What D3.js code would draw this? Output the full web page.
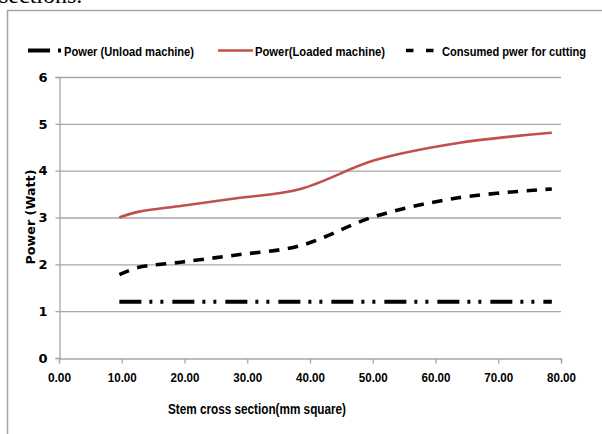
<!DOCTYPE html>
<html>
<head>
<meta charset="utf-8">
<script src="https://cdn.jsdelivr.net/npm/d3@7"></script>
<style>
  body { margin: 0; background: #fff; }
  svg { display: block; }
  .narrow { font-family: 'Liberation Sans Narrow', 'Arial Narrow', 'Liberation Sans', sans-serif; font-weight: bold; }
  .wide { font-family: 'DejaVu Sans', Verdana, sans-serif; font-weight: bold; }
</style>
</head>
<body>
<div id="chart"></div>
<script>
// stem cross sections (mm^2) for the measured stems
var crossSections = [9.62, 12.57, 19.63, 28.27, 38.48, 50.27, 63.62, 78.54];
var powerUnloaded = [1.2, 1.2, 1.2, 1.2, 1.2, 1.2, 1.2, 1.2];
var powerLoaded = [3.0, 3.12, 3.25, 3.41, 3.61, 4.22, 4.59, 4.81];
var powerCutting = [1.78, 1.93, 2.05, 2.2, 2.4, 3.02, 3.42, 3.61];

var xTicks = [0, 10, 20, 30, 40, 50, 60, 70, 80];
var yTicks = [0, 1, 2, 3, 4, 5, 6];

var legendNames = ['Power (Unload machine)', 'Power(Loaded machine)', 'Consumed pwer for cutting'];

var W = 602, H = 434;
var plot = { left: 59, right: 561, top: 77, bottom: 358 };

var svg = d3.select('#chart').append('svg')
  .attr('width', W)
  .attr('height', H);

// bit of the page text above the figure, cut off
svg.append('text')
  .attr('x', -1).attr('y', 2.5)
  .attr('font-family', "'Liberation Serif', 'Times New Roman', serif")
  .attr('font-size', 24)
  .text('sections.');

// chart frame
svg.append('rect')
  .attr('x', 7.5).attr('y', 10.5)
  .attr('width', 640).attr('height', 460)
  .attr('fill', 'none')
  .attr('stroke', '#a6a6a6')
  .attr('stroke-width', 1.5);

var x = d3.scaleLinear().domain([0, 80]).range([plot.left, plot.right]);
var y = d3.scaleLinear().domain([0, 6]).range([plot.bottom, plot.top]);

// horizontal gridlines
svg.append('g').selectAll('line')
  .data(yTicks.filter(function(d) { return d > 0; }))
  .enter().append('line')
  .attr('x1', plot.left).attr('x2', plot.right)
  .attr('y1', function(d) { return y(d) + 0.5; })
  .attr('y2', function(d) { return y(d) + 0.5; })
  .attr('stroke', '#a6a6a6')
  .attr('stroke-width', 1.3);

// x axis
var xAxis = svg.append('g')
  .attr('transform', 'translate(0,' + (plot.bottom + 0.5) + ')')
  .call(d3.axisBottom(x).tickValues(xTicks).tickSize(5).tickPadding(9).tickFormat(d3.format('.2f')));
xAxis.select('.domain').attr('stroke', '#a6a6a6').attr('stroke-width', 1.3);
xAxis.selectAll('.tick line').attr('stroke', '#a6a6a6').attr('stroke-width', 1.3);
xAxis.selectAll('.tick text')
  .attr('class', 'narrow')
  .attr('font-size', 13.5)
  .attr('fill', '#000')
  .attr('textLength', function(d) { return d3.format('.2f')(d).length * 5.8; })
  .attr('lengthAdjust', 'spacingAndGlyphs');

// y axis
var yAxis = svg.append('g')
  .attr('transform', 'translate(' + (plot.left + 0.5) + ',0)')
  .call(d3.axisLeft(y).tickValues(yTicks).tickSize(4).tickPadding(8).tickFormat(d3.format('d')));
yAxis.select('.domain').attr('stroke', '#a6a6a6').attr('stroke-width', 1.3);
yAxis.selectAll('.tick line').attr('stroke', '#a6a6a6').attr('stroke-width', 1.3);
yAxis.selectAll('.tick text')
  .attr('class', 'wide')
  .attr('font-size', 13)
  .attr('fill', '#000');

// axis titles
svg.append('text')
  .attr('class', 'narrow')
  .attr('x', 168).attr('y', 414)
  .attr('font-size', 14.5)
  .attr('textLength', 178)
  .attr('lengthAdjust', 'spacingAndGlyphs')
  .text('Stem cross section(mm square)');

svg.append('text')
  .attr('class', 'wide')
  .attr('transform', 'translate(35,217) rotate(-90)')
  .attr('text-anchor', 'middle')
  .attr('font-size', 12)
  .attr('textLength', 95)
  .attr('lengthAdjust', 'spacingAndGlyphs')
  .text('Power (Watt)');

// series
var series = [
  { name: legendNames[0], values: powerUnloaded, color: '#000', width: 4, dash: '22,8,3,8,3,9', curve: d3.curveLinear },
  { name: legendNames[1], values: powerLoaded, color: '#c0504d', width: 2.6, dash: null, curve: d3.curveCatmullRom },
  { name: legendNames[2], values: powerCutting, color: '#000', width: 3.6, dash: '10.5,8.5', curve: d3.curveCatmullRom }
];

series.forEach(function(s) {
  var line = d3.line()
    .x(function(d, i) { return x(crossSections[i]); })
    .y(function(d) { return y(d); })
    .curve(s.curve);
  svg.append('path')
    .datum(s.values)
    .attr('d', line)
    .attr('fill', 'none')
    .attr('stroke', s.color)
    .attr('stroke-width', s.width)
    .attr('stroke-dasharray', s.dash);
});

// legend
var legend = [
  { sx: 28, ex: 62, tx: 64, tw: 130, dash: '22,8,3,8,3,9' },
  { sx: 218, ex: 253, tx: 255, tw: 130, dash: null },
  { sx: 406, ex: 435, tx: 442, tw: 144, dash: '7.5,12.5' }
];
legend.forEach(function(l, i) {
  var s = series[i];
  svg.append('line')
    .attr('x1', l.sx).attr('x2', l.ex)
    .attr('y1', 50.5).attr('y2', 50.5)
    .attr('stroke', s.color)
    .attr('stroke-width', s.width)
    .attr('stroke-dasharray', l.dash);
  svg.append('text')
    .attr('class', 'narrow')
    .attr('x', l.tx).attr('y', 56)
    .attr('font-size', 13.5)
    .attr('textLength', l.tw)
    .attr('lengthAdjust', 'spacingAndGlyphs')
    .text(s.name);
});
</script>
</body>
</html>
